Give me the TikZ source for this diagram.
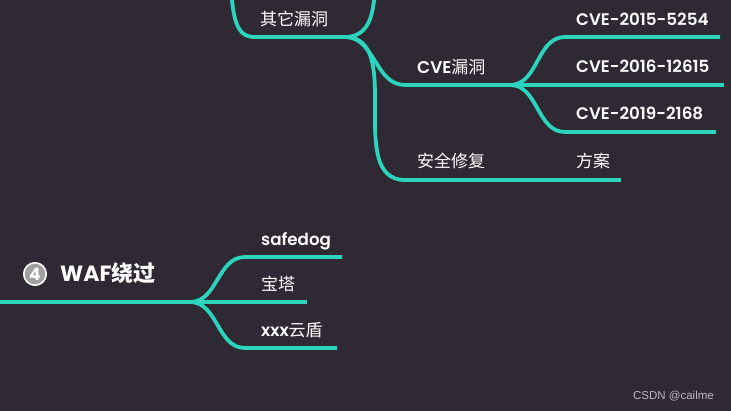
\documentclass[tikz,border=0pt]{standalone}
\usepackage{fontspec}
\setmainfont{Poppins}
\newfontfamily\semi{Poppins SemiBold}
\newfontfamily\cjk{Noto Sans CJK SC}
\newfontfamily\wm{Liberation Sans}
\definecolor{bg}{RGB}{47,41,51}
\definecolor{brteal}{RGB}{44,212,190}
\definecolor{wmgray}{RGB}{185,185,190}
\definecolor{numgray}{RGB}{160,160,160}
\begin{document}
\begin{tikzpicture}[x=1pt,y=-1pt,
  br/.style={line width=3.8pt, draw=brteal},
  lbl/.style={anchor=base west, inner sep=0pt, text=white, font=\fontsize{17}{20}\selectfont},
  cvelbl/.style={lbl, font=\semi\fontsize{16.7}{20}\selectfont}]
\fill[bg] (0,0) rectangle (731,411);
\useasboundingbox (0,0) rectangle (731,411);
\begin{scope}
\clip (0,0) rectangle (731,411);
% upper part
\coordinate (pq) at (230,-60);
\coordinate (q0) at (255,37);
\coordinate (q1) at (345,37);
\coordinate (up) at (405,-106);
\coordinate (c0) at (405,85);
\coordinate (c1) at (510,85);
\coordinate (s0) at (405,180);
\coordinate (s1) at (565,180);
\coordinate (f1) at (621,180);
\coordinate (a0) at (565,37);
\coordinate (a1) at (720,37);
\coordinate (b1) at (724,85);
\coordinate (d0) at (565,132);
\coordinate (d1) at (716,132);
\draw[br] (pq) .. controls (230,20) and (235,37) .. (q0) -- (q1);
\draw[br] (q1) to[out=0,in=180] (up);
\draw[br] (q1) to[out=0,in=180] (c0) -- (c1);
\draw[br] (q1) to[out=0,in=180] (s0) -- (s1) -- (f1);
\draw[br] (c1) to[out=0,in=180] (a0) -- (a1);
\draw[br] (c1) -- (b1);
\draw[br] (c1) to[out=0,in=180] (d0) -- (d1);
% lower part
\coordinate (r0) at (-5,302);
\coordinate (r1) at (190,302);
\coordinate (e0) at (245,257);
\coordinate (e1) at (342,257);
\coordinate (g1) at (307,302);
\coordinate (h0) at (245,348);
\coordinate (h1) at (337,348);
\draw[br] (r0) -- (r1);
\draw[br] (r1) to[out=0,in=180] (e0) -- (e1);
\draw[br] (r1) -- (g1);
\draw[br] (r1) to[out=0,in=180] (h0) -- (h1);
\end{scope}
% labels
\node[lbl] (qt) at (260,26) {\cjk 其它漏洞};
\node[lbl] (cve) at (417,74) {\semi CVE{\cjk 漏洞}};
\node[lbl] (fix) at (417,168) {\cjk 安全修复};
\node[cvelbl] (cvea) at (576,26) {CVE-2015-5254};
\node[cvelbl] (cveb) at (576,73) {CVE-2016-12615};
\node[cvelbl] (cvec) at (576,120) {CVE-2019-2168};
\node[lbl] (fa) at (576,168) {\cjk 方案};
\node[cvelbl] (sd) at (261,246) {safedog};
\node[lbl] (bt) at (261,291) {\cjk 宝塔};
\node[lbl] (yd) at (261,337) {\semi xxx{\cjk 云盾}};
\node[circle, fill=numgray, draw=white, line width=1.6pt, minimum size=22.5pt, inner sep=0pt,
      text=white, font=\fontsize{17}{17}\selectfont\bfseries] (num) at (35,274) {4};
\node[lbl, font=\fontsize{22}{25}\selectfont\bfseries] (waf) at (60,282) {WAF{\cjk 绕过}};
\node[anchor=base east, inner sep=0pt, text=wmgray, font=\wm\fontsize{11.5}{12}\selectfont] (wm) at (714,400) {CSDN @cailme};
\end{tikzpicture}
\end{document}
